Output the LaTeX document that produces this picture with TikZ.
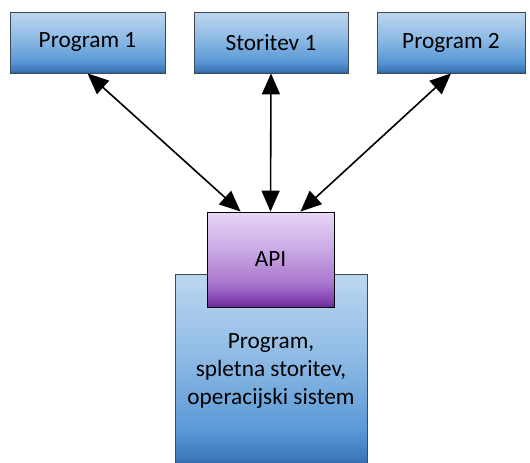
\documentclass[tikz,border=0pt]{standalone}
\usepackage{fontspec}
\setmainfont{Carlito}
\usetikzlibrary{arrows.meta}

\definecolor{boxline}{RGB}{64,72,82}
\pgfdeclareverticalshading{blueshade}{100bp}{
  rgb(0bp)=(0.18,0.38,0.62); rgb(25bp)=(0.18,0.38,0.62);
  rgb(28bp)=(0.25,0.48,0.74); rgb(35bp)=(0.36,0.60,0.84);
  rgb(55bp)=(0.57,0.74,0.90); rgb(75bp)=(0.74,0.84,0.94);
  rgb(100bp)=(0.74,0.84,0.94)}
\pgfdeclareverticalshading{purpleshade}{100bp}{
  rgb(0bp)=(0.42,0.16,0.60); rgb(25bp)=(0.42,0.16,0.60);
  rgb(29bp)=(0.52,0.27,0.70); rgb(38bp)=(0.67,0.47,0.81);
  rgb(57bp)=(0.80,0.68,0.90); rgb(75bp)=(0.91,0.84,0.96);
  rgb(100bp)=(0.91,0.84,0.96)}

\begin{document}
\begin{tikzpicture}[x=1pt,y=-1pt]
\tikzset{box/.style = {rectangle,draw=boxline,line width=0.8pt,shading=blueshade,
          font=\fontsize{23.3}{27.7}\selectfont,align=center,inner sep=0pt},
         apibox/.style = {box,draw=black,shading=purpleshade},
         edge/.style = {{Triangle[length=21pt,width=18pt]}-{Triangle[length=21pt,width=18pt]},line width=1.6pt}}

\useasboundingbox (0,0) rectangle (530,463);

\node[box,minimum width=192pt,minimum height=194pt] (S) at (271,371) {Program,\\spletna storitev,\\operacijski sistem};
\node[apibox,minimum width=127pt,minimum height=95pt] (API) at (270.5,259.5) {API};

\node[box,minimum width=155pt,minimum height=61pt] (P1) at (87.5,42.5) {Program 1};
\node[box,minimum width=154pt,minimum height=61pt] (S1) at (271,42.5) {Storitev 1};
\node[box,minimum width=148pt,minimum height=61pt] (P2) at (451,42.5) {Program 2};

\path [edge] (P1.south) edge (API.122);
\path [edge] (S1.south) edge (API.north);
\path [edge] (P2.south) edge (API.58);
\end{tikzpicture}
\end{document}
